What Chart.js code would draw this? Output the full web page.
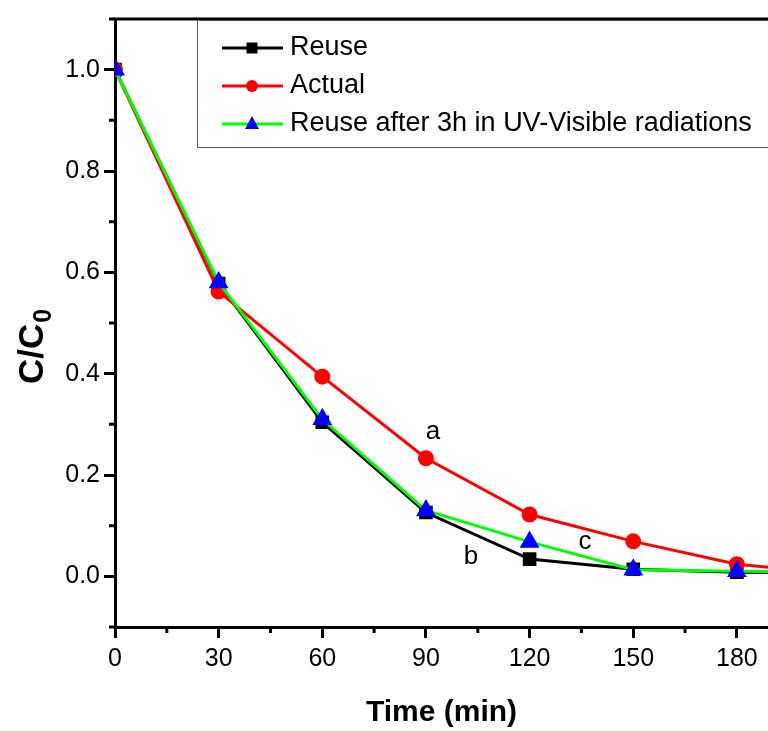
<!DOCTYPE html>
<html>
<head>
<meta charset="utf-8">
<script src="https://cdn.jsdelivr.net/npm/chart.js@4.4.1/dist/chart.umd.min.js"></script>
<style>
html, body { margin: 0; padding: 0; background: #fff; overflow: hidden; }
#wrap { width: 768px; height: 731px; }
</style>
</head>
<body>
<div id="wrap"><canvas id="c"></canvas></div>
<script>
// data
const times = [0, 30, 60, 90, 120, 150, 180, 210];
const reuse = [1.0, 0.578, 0.304, 0.126, 0.034, 0.014, 0.008, 0.006];
const actual = [1.0, 0.562, 0.394, 0.233, 0.122, 0.069, 0.024, 0.004];
const reuseUV = [1.0, 0.58, 0.31, 0.13, 0.068, 0.013, 0.010, 0.008];
const seriesNames = ['Reuse', 'Actual', 'Reuse after 3h in UV-Visible radiations'];

// tick positions
const xMajor = [0, 30, 60, 90, 120, 150, 180];
const xMinor = [15, 45, 75, 105, 135, 165];
const yMajor = [0, 0.2, 0.4, 0.6, 0.8, 1.0];
const yMinor = [-0.1, 0.1, 0.3, 0.5, 0.7, 0.9, 1.1];

// curve labels
const notes = [
    { t: 'a', x: 92, y: 0.286 },
    { t: 'b', x: 103, y: 0.039 },
    { t: 'c', x: 136, y: 0.069 }
];

const FONT = '"Liberation Sans", Arial, sans-serif';
Chart.defaults.font.family = FONT;
Chart.defaults.color = '#000';

function pts(arr) {
    return times.map((t, i) => ({ x: t, y: arr[i] }));
}

// legend marker drawing
function marker(ctx, style, x, y, color) {
    ctx.fillStyle = color;
    ctx.beginPath();
    if (style === 'rect') {
        ctx.rect(x - 5.5, y - 5.5, 11, 11);
    } else if (style === 'circle') {
        ctx.arc(x, y, 6, 0, Math.PI * 2);
    } else {
        ctx.moveTo(x, y - 8);
        ctx.lineTo(x + 7, y + 5);
        ctx.lineTo(x - 7, y + 5);
        ctx.closePath();
    }
    ctx.fill();
}

const decor = {
    id: 'decor',
    afterDraw(chart) {
        const { ctx, chartArea: a, scales: { x, y } } = chart;
        ctx.save();
        ctx.strokeStyle = '#000';
        ctx.lineWidth = 3;

        // top frame line
        ctx.beginPath();
        ctx.moveTo(a.left - 1.5, a.top);
        ctx.lineTo(a.right + 5, a.top);
        ctx.stroke();

        // minor ticks
        ctx.beginPath();
        xMinor.forEach(v => {
            const px = x.getPixelForValue(v);
            ctx.moveTo(px, a.bottom);
            ctx.lineTo(px, a.bottom + 6);
        });
        yMinor.forEach(v => {
            const py = y.getPixelForValue(v);
            ctx.moveTo(a.left, py);
            ctx.lineTo(a.left - 6, py);
        });
        ctx.stroke();

        // curve letters
        ctx.font = '26px ' + FONT;
        ctx.fillStyle = '#000';
        ctx.textAlign = 'center';
        ctx.textBaseline = 'middle';
        notes.forEach(n => {
            ctx.fillText(n.t, x.getPixelForValue(n.x), y.getPixelForValue(n.y));
        });

        // legend box
        ctx.lineWidth = 1;
        ctx.strokeStyle = '#555';
        ctx.strokeRect(197.5, 20.5, 620, 127);
        const ds = chart.data.datasets;
        ctx.textAlign = 'left';
        ctx.font = '27px ' + FONT;
        ds.forEach((d, i) => {
            const ly = 48 + i * 38;
            ctx.strokeStyle = d.borderColor;
            ctx.lineWidth = 3;
            ctx.beginPath();
            ctx.moveTo(222, ly);
            ctx.lineTo(283, ly);
            ctx.stroke();
            marker(ctx, d.pointStyle, 252, ly, d.pointBackgroundColor);
            ctx.fillStyle = '#000';
            ctx.fillText(seriesNames[i], 290, ly);
        });

        // y axis title with subscript
        ctx.translate(43, 347);
        ctx.rotate(-Math.PI / 2);
        ctx.textBaseline = 'alphabetic';
        ctx.font = 'bold 35px ' + FONT;
        const w1 = ctx.measureText('C/C').width;
        ctx.font = 'bold 25px ' + FONT;
        const w2 = ctx.measureText('0').width;
        const x0 = -(w1 + w2) / 2;
        ctx.font = 'bold 35px ' + FONT;
        ctx.fillText('C/C', x0, 0);
        ctx.font = 'bold 25px ' + FONT;
        ctx.fillText('0', x0 + w1 + 1, 8);
        ctx.restore();
    }
};

new Chart(document.getElementById('c'), {
    type: 'line',
    data: {
        datasets: [
            {
                label: seriesNames[0],
                data: pts(reuse),
                borderColor: '#000000',
                backgroundColor: '#000000',
                pointBackgroundColor: '#000000',
                pointBorderColor: '#000000',
                pointStyle: 'rect',
                pointRadius: 7.5,
                borderWidth: 3,
                order: 3
            },
            {
                label: seriesNames[1],
                data: pts(actual),
                borderColor: '#ff0000',
                backgroundColor: '#ff0000',
                pointBackgroundColor: '#ff0000',
                pointBorderColor: '#ff0000',
                pointStyle: 'circle',
                pointRadius: 6.5,
                borderWidth: 3,
                order: 2
            },
            {
                label: seriesNames[2],
                data: pts(reuseUV),
                borderColor: '#00ff00',
                backgroundColor: '#0000ff',
                pointBackgroundColor: '#0000ff',
                pointBorderColor: '#0000ff',
                pointStyle: 'triangle',
                pointRadius: 8.5,
                borderWidth: 3,
                order: 1
            }
        ]
    },
    options: {
        responsive: true,
        maintainAspectRatio: false,
        animation: false,
        layout: { autoPadding: false, padding: { top: 16, right: 0, left: 0, bottom: 0 } },
        elements: {
            line: { tension: 0 },
            point: { borderWidth: 1, hoverRadius: 8 }
        },
        plugins: {
            legend: { display: false },
            tooltip: { enabled: false }
        },
        scales: {
            x: {
                type: 'linear',
                min: 0,
                max: 189,
                afterBuildTicks: s => { s.ticks = xMajor.map(v => ({ value: v })); },
                afterFit: s => { s.height = 104; s.paddingRight = 0; s.paddingLeft = 0; },
                ticks: {
                    font: { size: 25 },
                    padding: 6,
                    maxRotation: 0,
                    callback: v => String(v)
                },
                grid: {
                    drawOnChartArea: false,
                    drawTicks: true,
                    tickLength: 11,
                    tickWidth: 3,
                    tickColor: '#000'
                },
                border: { color: '#000', width: 3 },
                title: {
                    display: true,
                    text: 'Time (min)',
                    font: { size: 30, weight: 'bold' },
                    padding: { top: 0, bottom: 0 }
                }
            },
            y: {
                type: 'linear',
                min: -0.1,
                max: 1.1,
                afterBuildTicks: s => { s.ticks = yMajor.map(v => ({ value: v })); },
                afterFit: s => { s.width = 115; },
                ticks: {
                    font: { size: 25 },
                    padding: 4,
                    callback: v => v.toFixed(1)
                },
                grid: {
                    drawOnChartArea: false,
                    drawTicks: true,
                    tickLength: 11,
                    tickWidth: 3,
                    tickColor: '#000'
                },
                border: { color: '#000', width: 3 }
            }
        }
    },
    plugins: [decor]
});
</script>
</body>
</html>
